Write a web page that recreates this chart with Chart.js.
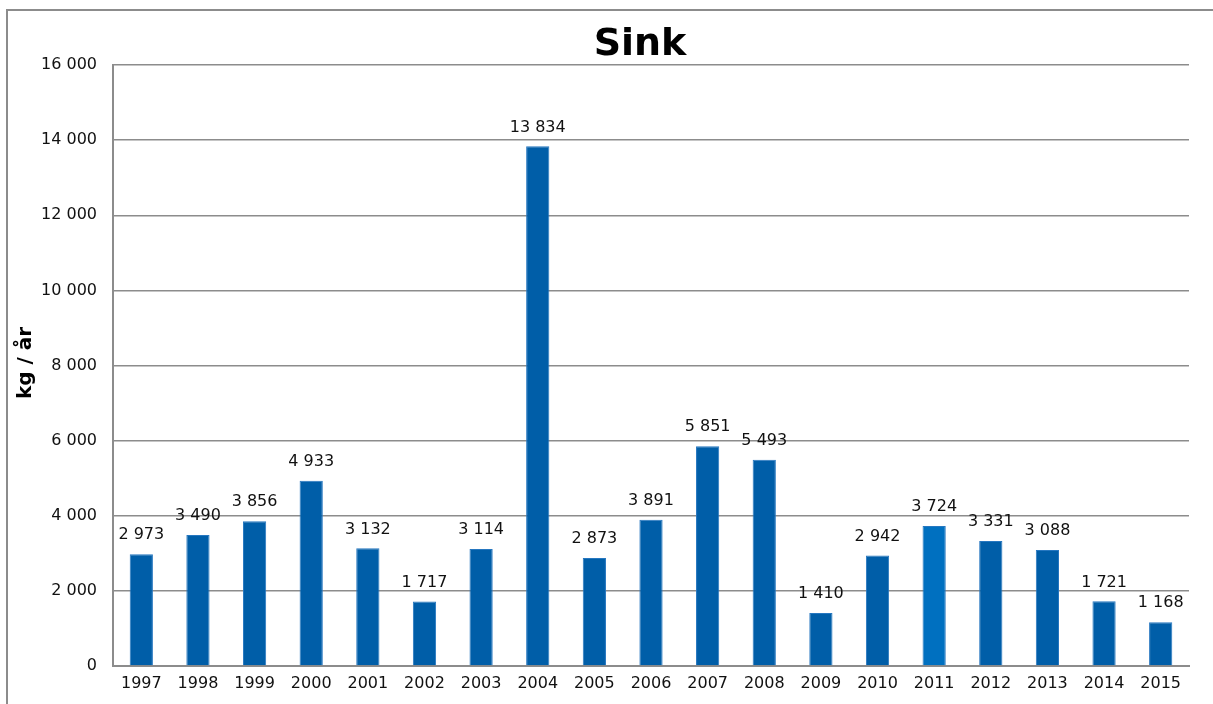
<!DOCTYPE html>
<html>
<head>
<meta charset="utf-8">
<script src="https://cdn.jsdelivr.net/npm/chart.js@4.4.1/dist/chart.umd.min.js"></script>
<style>
  html, body { margin: 0; padding: 0; background: #ffffff; }
  #wrap { width: 1213px; height: 704px; position: relative; }
</style>
</head>
<body>
<div id="wrap"><canvas id="sinkChart" width="1213" height="704"></canvas></div>
<script>
// === Data ===
const years = ['1997', '1998', '1999', '2000', '2001', '2002', '2003', '2004', '2005', '2006',
               '2007', '2008', '2009', '2010', '2011', '2012', '2013', '2014', '2015'];
const sinkValues = [2973, 3490, 3856, 4933, 3132, 1717, 3114, 13834, 2873, 3891,
                    5851, 5493, 1410, 2942, 3724, 3331, 3088, 1721, 1168];
const yTicks = [0, 2000, 4000, 6000, 8000, 10000, 12000, 14000, 16000];

const chartTitle = 'Sink';
const yLabel = 'kg / år';
const FONT = '"DejaVu Sans", Verdana, sans-serif';

// thousands with a space, like "13 834"
function fmt(v) {
  return String(v).replace(/\B(?=(\d{3})+(?!\d))/g, ' ');
}

const barColors = years.map(y => y === '2011' ? '#0070c0' : '#005ea8');

// frame, title, axis label and value labels
const decorPlugin = {
  id: 'decor',
  beforeDraw(chart) {
    const ctx = chart.ctx;
    ctx.save();
    ctx.strokeStyle = '#8c8c8c';
    ctx.lineWidth = 2;
    ctx.strokeRect(7, 10, 1230, 720);
    ctx.restore();
  },
  afterDraw(chart) {
    const ctx = chart.ctx;
    ctx.save();
    ctx.fillStyle = '#000';
    ctx.textAlign = 'center';
    ctx.textBaseline = 'middle';
    ctx.font = 'bold 38px ' + FONT;
    ctx.fillText(chartTitle, 640, 45);

    ctx.translate(26, 363);
    ctx.rotate(-Math.PI / 2);
    ctx.font = 'bold 20px ' + FONT;
    ctx.fillText(yLabel, 0, 0);
    ctx.restore();

    const meta = chart.getDatasetMeta(0);
    ctx.save();
    ctx.font = '16px ' + FONT;
    ctx.fillStyle = '#111';
    ctx.textAlign = 'center';
    ctx.textBaseline = 'bottom';
    meta.data.forEach((bar, i) => {
      ctx.fillText(fmt(sinkValues[i]), bar.x, bar.y - 11);
    });
    ctx.restore();
  }
};

new Chart(document.getElementById('sinkChart'), {
  type: 'bar',
  data: {
    labels: years,
    datasets: [{
      label: chartTitle,
      data: sinkValues,
      backgroundColor: barColors,
      borderColor: '#2677c0',
      borderWidth: { top: 1, left: 1, right: 1, bottom: 0 },
      barPercentage: 0.41,
      categoryPercentage: 1.0
    }]
  },
  options: {
    responsive: false,
    animation: false,
    layout: { padding: { left: 7, top: 65, right: 24, bottom: 0 } },
    plugins: {
      legend: { display: false },
      title: { display: false },
      tooltip: { enabled: false }
    },
    scales: {
      x: {
        grid: { display: false, drawTicks: false },
        border: { color: '#8c8c8c', width: 2 },
        ticks: {
          color: '#111',
          font: { family: FONT, size: 16 },
          padding: 8,
          maxRotation: 0,
          autoSkip: false
        },
        afterFit(scale) { scale.height = 38; }
      },
      y: {
        min: 0,
        max: 16000,
        afterBuildTicks(scale) { scale.ticks = yTicks.map(v => ({ value: v })); },
        grid: { color: '#8c8c8c', lineWidth: 1.5, drawTicks: false },
        border: { color: '#8c8c8c', width: 2 },
        ticks: {
          color: '#111',
          font: { family: FONT, size: 16 },
          padding: 16,
          callback: v => fmt(v)
        },
        afterFit(scale) { scale.width = 106; }
      }
    }
  },
  plugins: [decorPlugin]
});
</script>
</body>
</html>
